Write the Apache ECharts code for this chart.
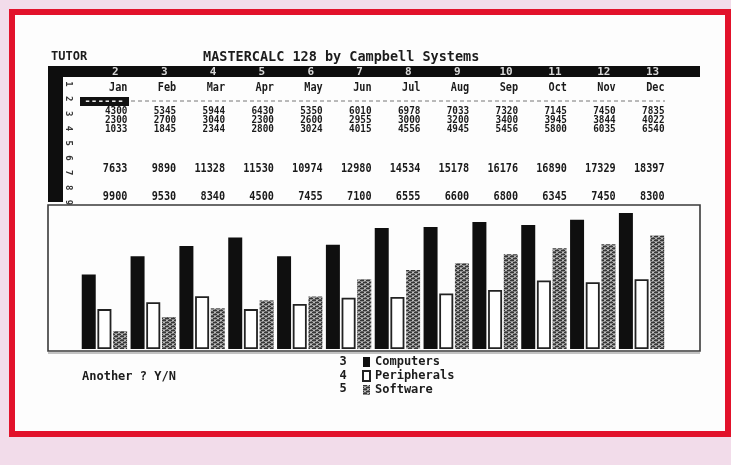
<!DOCTYPE html>
<html>
<head>
<meta charset="utf-8">
<script src="https://cdn.jsdelivr.net/npm/echarts@6/dist/echarts.min.js"></script>
<style>
html,body{margin:0;padding:0;background:#f2dcea;}
#c{width:731px;height:465px;}
</style>
</head>
<body>
<div id="c"></div>
<script>
const months = ['Jan','Feb','Mar','Apr','May','Jun','Jul','Aug','Sep','Oct','Nov','Dec'];
const colNums = ['2','3','4','5','6','7','8','9','10','11','12','13'];
const rowNums = ['1','2','3','4','5','6','7','8','9'];
const computers   = [4300,5345,5944,6430,5350,6010,6978,7033,7320,7145,7450,7835];
const peripherals = [2300,2700,3040,2300,2600,2955,3000,3200,3400,3945,3844,4022];
const software    = [1033,1845,2344,2800,3024,4015,4556,4945,5456,5800,6035,6540];
const totals      = [7633,9890,11328,11530,10974,12980,14534,15178,16176,16890,17329,18397];
const row9        = [9900,9530,8340,4500,7455,7100,6555,6600,6800,6345,7450,8300];
const seriesNames = ['Computers','Peripherals','Software'];
const seriesRows  = ['3','4','5'];

// hatch pattern for software bars
const pc = document.createElement('canvas');
pc.width = 6; pc.height = 4;
const g = pc.getContext('2d');
g.fillStyle = '#8c8c8c'; g.fillRect(0,0,6,4);
g.fillStyle = '#363636';
g.fillRect(0,0,4,1); g.fillRect(3,2,3,1); g.fillRect(0,2,1,1);
g.fillStyle = '#5e5e5e'; g.fillRect(1,3,3,1); g.fillRect(5,1,1,1);
g.fillStyle = '#bcbcbc'; g.fillRect(4,0,2,1); g.fillRect(1,2,2,1);
const hatch = {image: pc, repeat: 'repeat'};

const FONT = '"DejaVu Sans Mono", "Liberation Mono", monospace';
const ROW_Y = {colnum: 72, month: 88, r3: 111, r4: 120, r5: 129, r7: 169, r9: 197};

const chart = echarts.init(document.getElementById('c'));

function cellText(t, x, y, size) {
  return {type:'text', x:x, y:y, scaleX:0.85,
    style:{text:t, fill:'#1a1a1a', font:'bold ' + (size||12) + 'px ' + FONT, align:'right', verticalAlign:'middle'}};
}

const graphics = [
  {type:'rect', shape:{x:12, y:12, width:716, height:422}, style:{fill:'#fdfdfd', stroke:'#e2122b', lineWidth:6}, z:-10},
  {type:'rect', shape:{x:48, y:66, width:652, height:11}, style:{fill:'#0e0e0e'}},
  {type:'rect', shape:{x:48, y:66, width:15, height:136}, style:{fill:'#0e0e0e'}},
  {type:'rect', shape:{x:80, y:97, width:49, height:9}, style:{fill:'#111'}},
  {type:'text', x:104, y:101.5, style:{text:'------', fill:'#e8e8e8', font:'bold 11px ' + FONT, align:'center', verticalAlign:'middle'}},
  {type:'line', shape:{x1:131, y1:101, x2:665, y2:101}, style:{stroke:'#777', lineWidth:1, lineDash:[4,3]}},
  {type:'rect', shape:{x:48, y:205, width:652, height:146}, style:{fill:'none', stroke:'#3a3a3a', lineWidth:1.6}},
  {type:'line', shape:{x1:48, y1:353, x2:700, y2:353}, style:{stroke:'#888', lineWidth:1}},
  {type:'text', x:82, y:377, style:{text:'Another ? Y/N', fill:'#1c1c1c', font:'bold 12px ' + FONT, verticalAlign:'middle'}}
];
rowNums.forEach((r, i) => {
  graphics.push({type:'text', x:68, y:84 + i*14.8, rotation:-Math.PI/2,
    style:{text:r, fill:'#333', font:'bold 9px ' + FONT, align:'center', verticalAlign:'middle'}});
});
seriesRows.forEach((r, i) => {
  graphics.push({type:'text', x:343, y:362 + i*13.5,
    style:{text:r, fill:'#1c1c1c', font:'bold 12px ' + FONT, align:'center', verticalAlign:'middle'}});
});

chart.setOption({
  animation:false,
  backgroundColor:'#f2dcea',
  title:[
    {text:'TUTOR', left:46, top:46, textStyle:{fontFamily:FONT, fontWeight:'bold', fontSize:12, color:'#1c1c1c'}},
    {text:'MASTERCALC 128 by Campbell Systems', left:198, top:45, textStyle:{fontFamily:FONT, fontWeight:'bold', fontSize:13.5, color:'#1c1c1c'}}
  ],
  graphic:graphics,
  legend:{
    data:seriesNames, orient:'vertical', left:362, top:356, padding:0, itemGap:2, itemWidth:7, itemHeight:10,
    icon:'rect', selectedMode:false,
    textStyle:{fontFamily:FONT, fontWeight:'bold', fontSize:12, lineHeight:11, color:'#1c1c1c', padding:[0,0,0,0]}
  },
  grid:[
    {left:80, right:65, top:205, height:144},
    {left:91, width:586, top:60, height:150}
  ],
  xAxis:[
    {type:'category', data:months, gridIndex:0, show:false},
    {type:'category', data:months, gridIndex:1, show:false}
  ],
  yAxis:[
    {type:'value', min:0, max:8300, gridIndex:0, show:false, splitLine:{show:false}},
    {type:'value', min:0, max:1, gridIndex:1, show:false, splitLine:{show:false}}
  ],
  series:[
    {name:'Computers', type:'bar', data:computers, barWidth:14, barGap:'12%',
      itemStyle:{color:'#0f0f0f'}},
    {name:'Peripherals', type:'bar', data:peripherals, barWidth:14, barGap:'12%',
      itemStyle:{color:'#ffffff', borderColor:'#222', borderWidth:1.8}},
    {name:'Software', type:'bar', data:software, barWidth:14, barGap:'12%',
      itemStyle:{color:hatch}},
    {type:'custom', xAxisIndex:1, yAxisIndex:1, silent:true,
      data: months.map((m, i) => [i, 0]),
      renderItem:function(params, api){
        const i = api.value(0);
        const cx = api.coord([i, 0])[0];
        const rx = cx + 12;
        return {type:'group', children:[
          {type:'text', x:cx, y:ROW_Y.colnum, style:{text:colNums[i], fill:'#d8d8d8', font:'bold 11px ' + FONT, align:'center', verticalAlign:'middle'}},
          cellText(months[i], rx, ROW_Y.month),
          cellText(String(computers[i]), rx, ROW_Y.r3, 11),
          cellText(String(peripherals[i]), rx, ROW_Y.r4, 11),
          cellText(String(software[i]), rx, ROW_Y.r5, 11),
          cellText(String(totals[i]), rx, ROW_Y.r7),
          cellText(String(row9[i]), rx, ROW_Y.r9)
        ]};
      }
    }
  ]
});
</script>
</body>
</html>
